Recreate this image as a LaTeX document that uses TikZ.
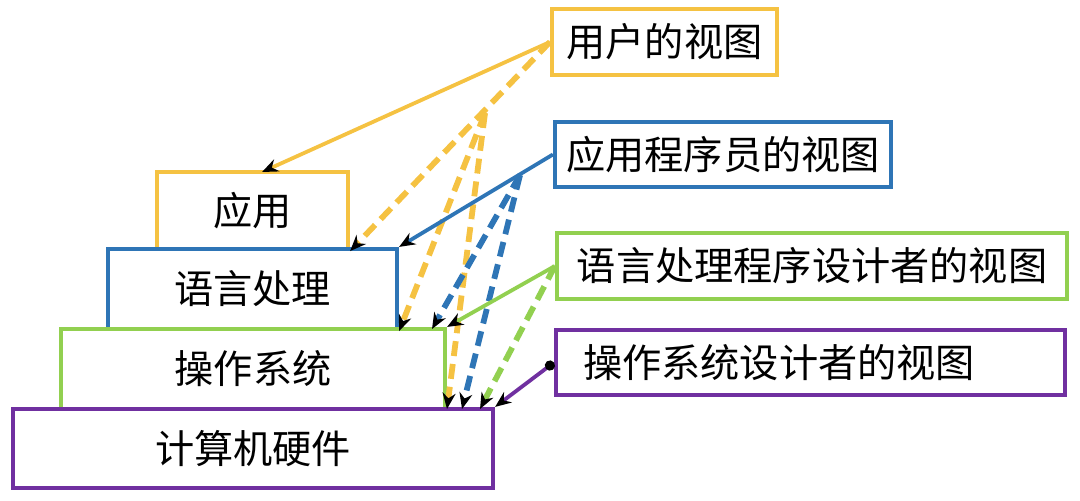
\documentclass[tikz,border=0pt]{standalone}
\usepackage{fontspec}
\newfontfamily\cjk{Noto Sans CJK SC}
\usepackage{tikz}
\usetikzlibrary{arrows.meta}

\definecolor{viewyellow}{HTML}{F5C242}
\definecolor{viewblue}{HTML}{2E75B6}
\definecolor{viewgreen}{HTML}{92D050}
\definecolor{viewpurple}{HTML}{7030A0}

\begin{document}
\begin{tikzpicture}[x = 0.5pt, y = -0.5pt,
		layer/.style = {draw, line width = 2.1pt, fill = white, inner sep = 0pt,
			font = \cjk\fontsize{19.6}{23}\selectfont},
		link/.style = {line width = 1.9pt, -{Stealth[black, length = 8pt, width = 6.5pt]}},
		dlink/.style = {link, line width = 2.9pt, dash pattern = on 7.5pt off 4pt}]

			\useasboundingbox (0,0) rectangle (1080,500);

			\begin{scope}
				\node [layer, draw = viewyellow, minimum width = 95.5pt, minimum height = 38.5pt] (app) at (252.5,210.5) {应用};
				\node [layer, draw = viewblue, minimum width = 144.5pt, minimum height = 40pt] (lang) at (252.5,289) {语言处理};
				\node [layer, draw = viewgreen, minimum width = 192pt, minimum height = 40pt] (os) at (253,369) {操作系统};
				\node [layer, draw = viewpurple, minimum width = 240pt, minimum height = 39.5pt] (hw) at (253,448.5) {计算机硬件};
			\end{scope}

			\begin{scope}
				\node [layer, draw = viewyellow, minimum width = 112.5pt, minimum height = 33pt] (user) at (664.5,42) {用户的视图};
				\node [layer, draw = viewblue, minimum width = 168pt, minimum height = 32.5pt] (prog) at (723,154.5) {应用程序员的视图};
				\node [layer, draw = viewgreen, minimum width = 255pt, minimum height = 33pt] (langd) at (812,266) {语言处理程序设计者的视图};
				\node [layer, draw = viewpurple, minimum height = 32.5pt, inner xsep = 13.5pt,
					text width = 227.5pt, align = left] (osd) at (810.5,362.5) {操作系统设计者的视图};
			\end{scope}

			\coordinate (ybend) at (485,113);
			\coordinate (bbend) at (520,175);
			\coordinate (appin) at (262,172);
			\coordinate (osin) at (432,329);
			\coordinate (hwy) at (447,409);
			\coordinate (hwb) at (462,409);
			\coordinate (hwg) at (480,409);

			\begin{scope}
				\draw [link, viewyellow] (user.west) -- (appin);
				\draw [dlink, viewyellow] (user.west) -- (app.south east);
				\draw [dlink, viewyellow] (ybend) -- (lang.south east);
				\draw [dlink, viewyellow] (ybend) -- (hwy);
			\end{scope}

			\begin{scope}
				\draw [link, viewblue] (prog.west) -- (lang.north east);
				\draw [dlink, viewblue] (bbend) -- (osin);
				\draw [dlink, viewblue] (bbend) -- (hwb);
			\end{scope}

			\begin{scope}
				\draw [link, viewgreen] (langd.west) -- (os.north east);
				\draw [dlink, viewgreen] (langd.west) -- (hwg);
				\draw [link, viewpurple, {Circle[black, length = 5pt]}-{Stealth[black, length = 8pt, width = 6.5pt]}] (osd.west) -- (hw.north east);
			\end{scope}
		\end{tikzpicture}
\end{document}
